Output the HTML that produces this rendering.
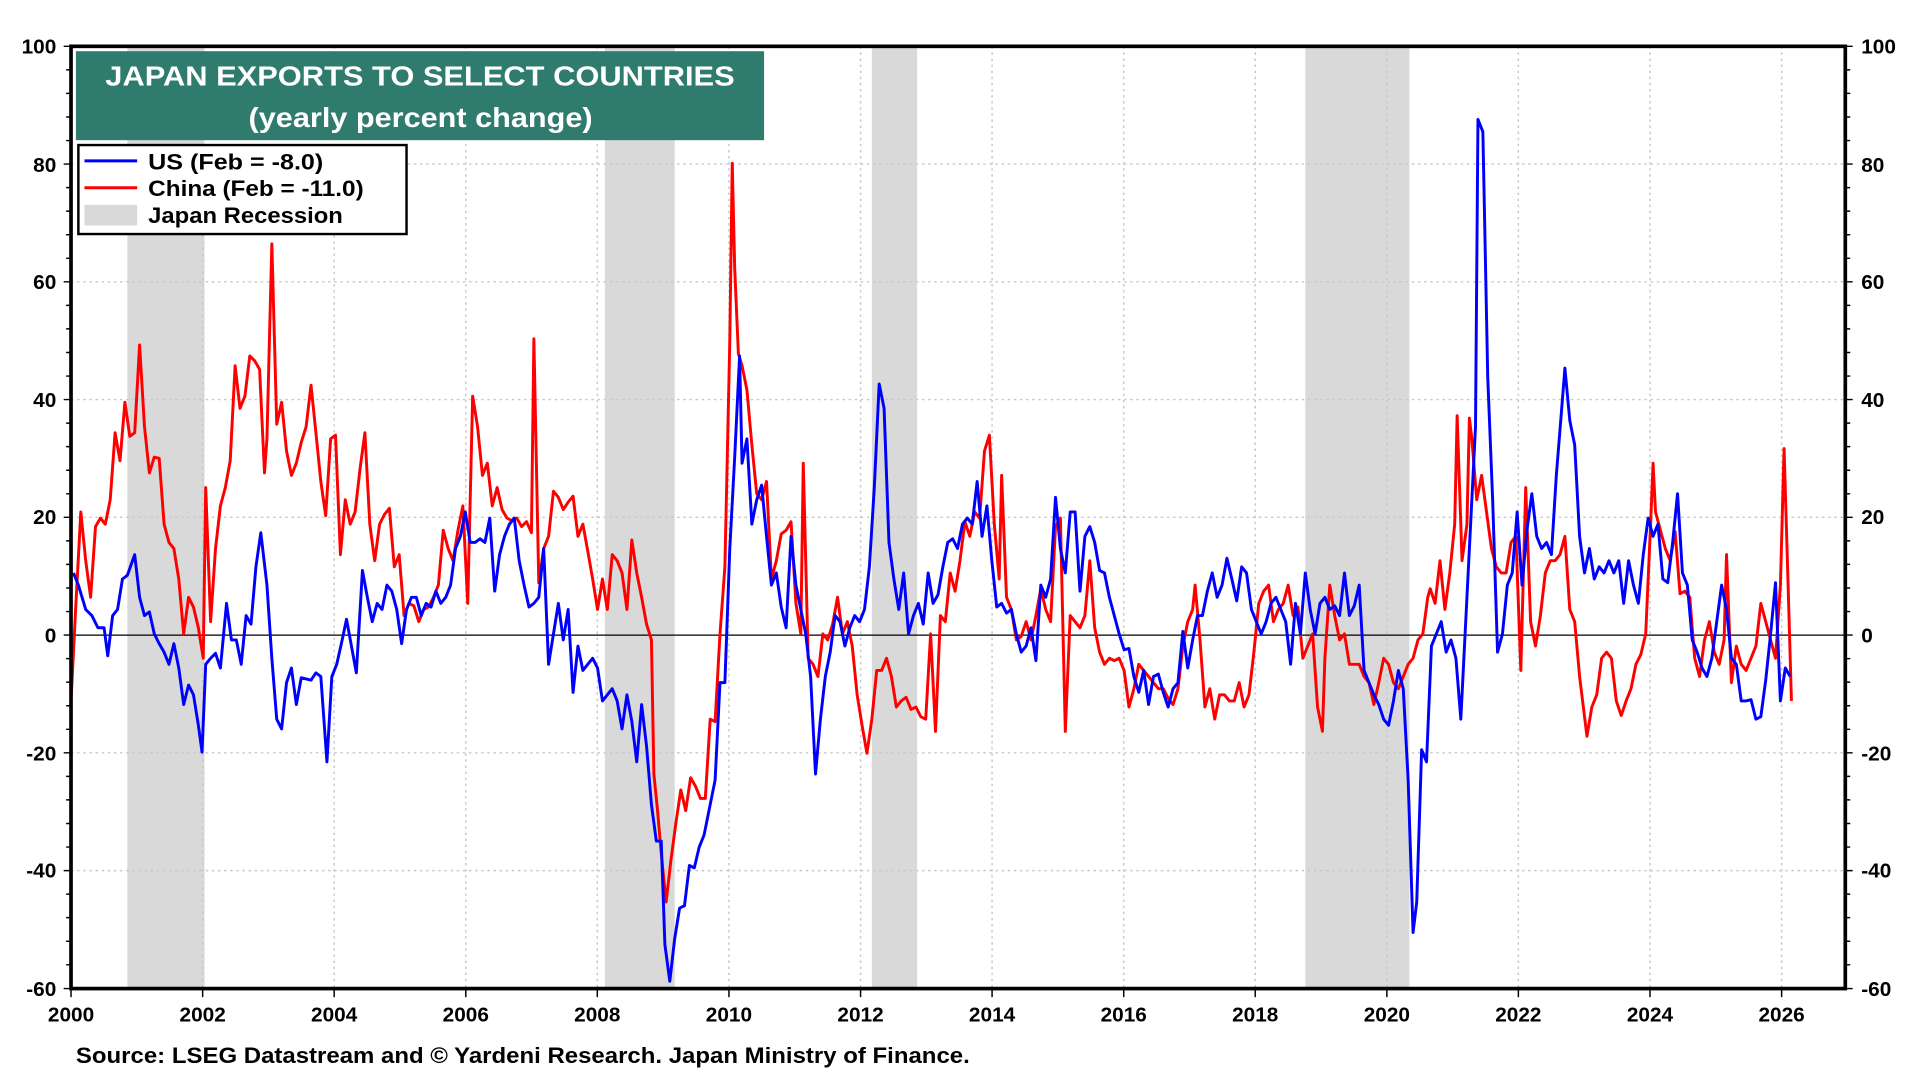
<!DOCTYPE html>
<html><head><meta charset="utf-8"><style>
html,body{margin:0;padding:0;background:#fff;}
svg{display:block}
text{font-family:"Liberation Sans",Arial,sans-serif;font-weight:bold;}
</style></head><body>
<svg width="1920" height="1080" viewBox="0 0 1568 886" preserveAspectRatio="none" xmlns="http://www.w3.org/2000/svg">
<rect x="0" y="0" width="1568" height="886" fill="#fff"/>
<g fill="#d9d9d9">
<rect x="104" y="38" width="63" height="773"/>
<rect x="494" y="38" width="57" height="773"/>
<rect x="712" y="38" width="37" height="773"/>
<rect x="1066" y="38" width="85" height="773"/>
</g>
<g stroke="#c8c8c8" stroke-width="1.2" stroke-dasharray="2,3">
<line x1="58" x2="1507" y1="134.6" y2="134.6"/>
<line x1="58" x2="1507" y1="231.2" y2="231.2"/>
<line x1="58" x2="1507" y1="327.8" y2="327.8"/>
<line x1="58" x2="1507" y1="424.4" y2="424.4"/>
<line x1="58" x2="1507" y1="617.6" y2="617.6"/>
<line x1="58" x2="1507" y1="714.2" y2="714.2"/>
<line y1="38" y2="811" x1="165.5" x2="165.5"/>
<line y1="38" y2="811" x1="272.9" x2="272.9"/>
<line y1="38" y2="811" x1="380.4" x2="380.4"/>
<line y1="38" y2="811" x1="487.8" x2="487.8"/>
<line y1="38" y2="811" x1="595.3" x2="595.3"/>
<line y1="38" y2="811" x1="702.8" x2="702.8"/>
<line y1="38" y2="811" x1="810.2" x2="810.2"/>
<line y1="38" y2="811" x1="917.7" x2="917.7"/>
<line y1="38" y2="811" x1="1025.1" x2="1025.1"/>
<line y1="38" y2="811" x1="1132.6" x2="1132.6"/>
<line y1="38" y2="811" x1="1240" x2="1240"/>
<line y1="38" y2="811" x1="1347.5" x2="1347.5"/>
<line y1="38" y2="811" x1="1455" x2="1455"/>
</g>
<line x1="58" x2="1507" y1="521" y2="521" stroke="#000" stroke-width="1"/>
<polyline fill="none" stroke="#ff0000" stroke-width="2.4" stroke-linejoin="round" points="58,575 62,495 66,420 70,460 74,490 78,432 82,425 86,430 90,410 94,355 98,378 102,330 106,358 110,355 114,283 118,350 122,388 126,375 130,376 134,430 138,445 142,450 146,475 150,520 154,490 158,498 162,515 166,540 168,400 172,510 176,450 180,415 184,400 188,378 192,300 196,335 200,325 204,292 208,296 212,303 216,388 218,360 222,200 226,348 230,330 234,370 238,390 242,380 246,363 250,350 254,316 258,355 262,395 266,423 270,360 274,357 278,455 282,410 286,430 290,420 294,385 298,355 302,430 306,460 310,430 314,422 318,417 322,465 326,455 328,480 330,505 334,495 338,497 342,510 346,500 350,498 354,490 358,480 362,435 366,450 370,460 374,435 378,415 382,495 386,325 390,350 394,390 398,380 402,415 406,400 410,418 414,425 418,427 422,425 426,432 430,428 434,437 436,278 440,478 444,450 448,440 452,403 456,408 460,418 464,412 468,407 472,440 476,430 480,452 484,475 488,500 492,475 496,500 500,455 504,460 508,470 512,500 516,443 520,470 524,490 528,512 532,525 534,635 537,665 540,700 544,740 548,705 552,675 556,648 560,665 564,638 568,645 572,655 576,655 580,590 584,592 588,520 592,465 596,280 598,134 600,220 603,290 606,300 610,320 614,365 618,405 622,410 626,395 630,475 634,460 638,438 642,435 646,428 650,495 654,520 656,380 660,540 664,545 668,555 672,520 676,525 680,512 684,490 688,520 692,510 696,530 700,570 704,595 708,618 712,590 716,550 720,550 724,540 728,555 732,580 736,575 740,572 744,582 748,580 752,588 756,590 760,520 764,600 768,505 772,510 776,470 780,485 784,460 788,428 792,440 796,420 800,425 804,370 808,357 812,430 816,475 818,390 822,490 826,500 830,525 834,522 838,510 842,525 846,505 850,483 854,500 858,510 862,432 866,425 870,600 874,505 878,510 882,515 886,505 890,460 894,515 898,535 902,545 906,540 910,542 914,540 918,550 922,580 926,565 930,545 934,550 938,555 942,560 946,565 950,565 954,573 958,578 962,565 966,530 970,510 974,500 976,480 980,525 984,580 988,565 992,590 996,570 1000,570 1004,575 1008,575 1012,560 1016,580 1020,570 1024,535 1028,495 1032,485 1036,480 1040,510 1044,500 1048,495 1052,480 1056,505 1060,498 1064,540 1068,530 1072,520 1076,580 1080,600 1082,540 1086,480 1090,505 1094,525 1098,520 1102,545 1106,545 1110,545 1114,555 1118,560 1122,578 1126,560 1130,540 1134,545 1138,560 1142,565 1146,555 1150,545 1154,540 1158,525 1162,520 1166,490 1168,483 1172,495 1176,460 1180,500 1184,470 1188,430 1190,341 1194,460 1198,430 1200,343 1202,360 1206,410 1210,390 1214,420 1218,450 1222,465 1226,470 1230,470 1234,445 1238,440 1242,550 1246,400 1250,510 1254,530 1258,505 1262,470 1266,460 1270,460 1274,455 1278,440 1282,500 1286,510 1290,555 1296,604 1300,580 1304,570 1308,540 1312,535 1316,540 1320,575 1324,587 1328,575 1332,565 1336,545 1340,537 1344,520 1348,430 1350,380 1352,420 1356,435 1360,450 1364,460 1368,436 1372,487 1376,485 1380,490 1384,540 1388,555 1392,525 1396,510 1400,535 1404,545 1408,525 1410,455 1414,560 1418,530 1422,545 1426,550 1430,540 1434,530 1438,495 1442,510 1446,525 1450,540 1454,480 1457,368 1460,470 1463,575"/>
<polyline fill="none" stroke="#0000ff" stroke-width="2.4" stroke-linejoin="round" points="60,470 64,480 70,500 75,505 80,515 85,515 88,538 92,505 96,500 100,475 104,472 110,455 114,490 118,505 122,502 126,520 130,528 134,535 138,545 142,528 146,548 150,578 154,562 158,570 162,595 165,617 168,545 172,540 176,536 180,548 185,495 189,525 193,525 197,545 201,505 205,512 209,465 213,437 218,480 222,540 226,590 230,598 234,560 238,548 242,578 246,556 250,557 254,558 258,552 262,555 267,625 271,555 275,545 279,527 283,508 287,530 291,552 296,468 300,490 304,510 308,495 312,500 316,480 320,485 324,500 328,528 332,500 336,490 340,490 344,505 348,495 352,498 356,485 360,495 364,490 368,480 372,450 376,440 380,420 384,445 388,445 392,442 396,445 400,425 404,485 408,455 412,440 416,430 420,425 424,460 428,480 432,498 436,495 440,490 444,450 448,545 452,520 456,495 460,525 464,500 468,568 472,530 476,550 480,545 484,540 488,548 492,575 496,570 500,565 504,575 508,598 512,570 516,592 520,625 524,578 528,612 532,660 536,690 540,690 543,775 547,805 551,770 555,745 559,743 563,710 567,712 571,695 575,685 580,660 584,640 588,560 592,560 596,450 600,375 604,292 606,380 610,360 614,430 618,410 622,398 626,440 630,480 634,470 638,498 642,515 646,440 650,480 654,500 658,520 662,555 666,635 670,590 674,555 678,535 682,505 686,510 690,530 694,515 698,505 702,510 706,500 710,465 714,400 718,315 722,335 726,445 730,475 734,500 738,470 742,520 746,505 750,495 754,512 758,470 762,495 766,488 770,465 774,445 778,442 782,450 786,430 790,425 794,430 798,395 802,440 806,415 810,460 814,498 818,495 822,503 826,500 830,520 834,535 838,530 842,515 846,542 850,480 854,490 858,475 862,408 866,450 870,470 874,420 878,420 882,485 886,440 890,432 894,445 898,468 902,470 906,490 910,505 914,520 918,533 922,532 926,555 930,568 934,550 938,578 942,555 946,553 950,568 954,580 958,565 962,560 966,518 970,548 974,525 978,505 982,505 986,485 990,470 994,490 998,480 1002,458 1006,475 1010,493 1014,465 1018,470 1022,500 1026,510 1030,520 1034,510 1038,495 1042,490 1046,500 1050,510 1054,545 1058,495 1062,520 1066,470 1070,500 1074,520 1078,495 1082,490 1086,500 1090,497 1094,505 1098,470 1102,505 1106,497 1110,480 1114,550 1118,560 1122,570 1126,578 1130,590 1134,595 1138,575 1142,550 1146,565 1150,640 1154,765 1157,740 1161,615 1165,625 1169,530 1173,520 1177,510 1181,535 1185,525 1189,540 1193,590 1197,510 1201,430 1205,350 1207,98 1211,108 1215,310 1219,410 1223,535 1227,520 1231,480 1235,470 1239,420 1243,480 1247,435 1251,405 1255,440 1259,450 1263,445 1267,455 1271,390 1275,340 1278,302 1282,345 1286,365 1290,440 1294,470 1298,450 1302,475 1306,465 1310,470 1314,460 1318,470 1322,460 1326,495 1330,460 1334,480 1338,495 1342,455 1346,425 1350,440 1354,430 1358,475 1362,478 1366,445 1370,405 1374,470 1378,480 1382,525 1386,535 1390,548 1394,555 1398,540 1402,510 1406,480 1410,500 1414,540 1418,545 1422,575 1426,575 1430,574 1434,590 1438,588 1442,558 1446,520 1450,478 1454,575 1458,548 1462,555"/>
<rect x="58" y="38" width="1449" height="773" fill="none" stroke="#000" stroke-width="3"/>
<g stroke="#000" stroke-width="1.2">
<path d="M52,38H58M52,134.6H58M52,231.2H58M52,327.8H58M52,424.4H58M52,521H58M52,617.6H58M52,714.2H58M52,811H58
M54,57.3H58M54,76.6H58M54,96H58M54,115.3H58M54,153.9H58M54,173.2H58M54,192.6H58M54,211.9H58M54,250.5H58M54,269.8H58M54,289.2H58M54,308.5H58M54,347.1H58M54,366.4H58M54,385.8H58M54,405.1H58M54,443.7H58M54,463H58M54,482.4H58M54,501.7H58M54,540.3H58M54,559.6H58M54,579H58M54,598.3H58M54,636.9H58M54,656.2H58M54,675.6H58M54,694.9H58M54,733.5H58M54,752.8H58M54,772.2H58M54,791.5H58"/>
<path d="M1507,38H1513M1507,134.6H1513M1507,231.2H1513M1507,327.8H1513M1507,424.4H1513M1507,521H1513M1507,617.6H1513M1507,714.2H1513M1507,811H1513
M1507,57.3H1511M1507,76.6H1511M1507,96H1511M1507,115.3H1511M1507,153.9H1511M1507,173.2H1511M1507,192.6H1511M1507,211.9H1511M1507,250.5H1511M1507,269.8H1511M1507,289.2H1511M1507,308.5H1511M1507,347.1H1511M1507,366.4H1511M1507,385.8H1511M1507,405.1H1511M1507,443.7H1511M1507,463H1511M1507,482.4H1511M1507,501.7H1511M1507,540.3H1511M1507,559.6H1511M1507,579H1511M1507,598.3H1511M1507,636.9H1511M1507,656.2H1511M1507,675.6H1511M1507,694.9H1511M1507,733.5H1511M1507,752.8H1511M1507,772.2H1511M1507,791.5H1511"/>
<path d="M58,811V818M165.5,811V818M272.9,811V818M380.4,811V818M487.8,811V818M595.3,811V818M702.8,811V818M810.2,811V818M917.7,811V818M1025.1,811V818M1132.6,811V818M1240,811V818M1347.5,811V818M1455,811V818"/>
</g>
<g font-size="17" text-anchor="end" fill="#000">
<text x="46" y="44">100</text><text x="46" y="141">80</text><text x="46" y="237">60</text><text x="46" y="334">40</text><text x="46" y="430">20</text><text x="46" y="527">0</text><text x="46" y="624">-20</text><text x="46" y="720">-40</text><text x="46" y="817">-60</text>
</g>
<g font-size="17" text-anchor="start" fill="#000">
<text x="1520" y="44">100</text><text x="1520" y="141">80</text><text x="1520" y="237">60</text><text x="1520" y="334">40</text><text x="1520" y="430">20</text><text x="1520" y="527">0</text><text x="1520" y="624">-20</text><text x="1520" y="720">-40</text><text x="1520" y="817">-60</text>
</g>
<g font-size="17" text-anchor="middle" fill="#000">
<text x="58" y="838">2000</text><text x="165.5" y="838">2002</text><text x="272.9" y="838">2004</text><text x="380.4" y="838">2006</text><text x="487.8" y="838">2008</text><text x="595.3" y="838">2010</text><text x="702.8" y="838">2012</text><text x="810.2" y="838">2014</text><text x="917.7" y="838">2016</text><text x="1025.1" y="838">2018</text><text x="1132.6" y="838">2020</text><text x="1240" y="838">2022</text><text x="1347.5" y="838">2024</text><text x="1455" y="838">2026</text>
</g>
<rect x="62" y="42" width="562" height="73" fill="#2f7b6d"/>
<text x="86" y="70" font-size="23" fill="#fff" textLength="514" lengthAdjust="spacingAndGlyphs">JAPAN EXPORTS TO SELECT COUNTRIES</text>
<text x="203" y="104" font-size="23" fill="#fff" textLength="281" lengthAdjust="spacingAndGlyphs">(yearly percent change)</text>
<rect x="64" y="119" width="268" height="73" fill="#fff" stroke="#000" stroke-width="2"/>
<line x1="69" x2="112" y1="132" y2="132" stroke="#0000ff" stroke-width="2.5"/>
<line x1="69" x2="112" y1="154" y2="154" stroke="#ff0000" stroke-width="2.5"/>
<rect x="69" y="168" width="43" height="17" fill="#d9d9d9"/>
<g font-size="18" fill="#000">
<text x="121" y="139" textLength="143" lengthAdjust="spacingAndGlyphs">US  (Feb = -8.0)</text>
<text x="121" y="161" textLength="176" lengthAdjust="spacingAndGlyphs">China (Feb = -11.0)</text>
<text x="121" y="183" textLength="159" lengthAdjust="spacingAndGlyphs">Japan Recession</text>
</g>
<text x="62" y="872" font-size="18" fill="#000" textLength="730" lengthAdjust="spacingAndGlyphs">Source: LSEG Datastream and © Yardeni Research. Japan Ministry of Finance.</text>
</svg>
</body></html>
